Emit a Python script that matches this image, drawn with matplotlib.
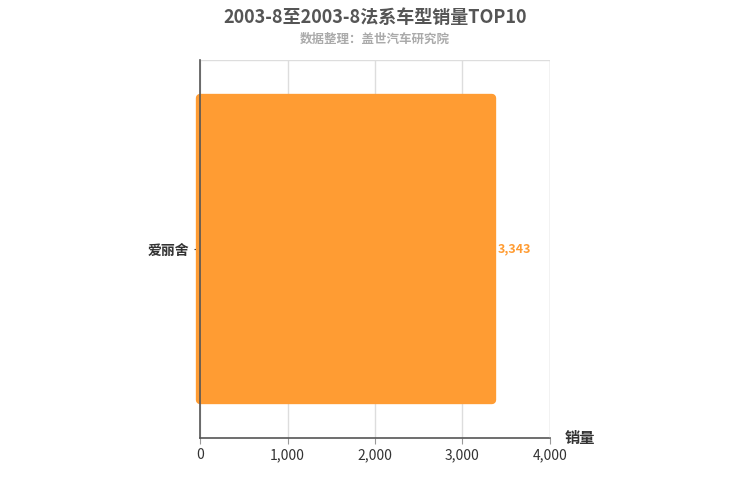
import matplotlib.pyplot as plt

plt.rcParams['font.family'] = ['Noto Sans CJK SC', 'DejaVu Sans']

# 数据
车型 = ['爱丽舍']
销量 = [3343]
刻度 = [0, 1000, 2000, 3000, 4000]

fig = plt.figure(figsize=(7.5, 5), dpi=100)
ax = fig.add_axes([0.2667, 0.124, 0.4666, 0.756])

bars = ax.barh(车型, 销量, height=0.8, color='#ff9c33', edgecolor='#ff9c33',
               linewidth=6, joinstyle='round')
for b in bars:
    b.set_clip_on(False)

ax.set_xlim(0, 4000)
ax.set_ylim(-0.5, 0.5)
ax.set_xticks(刻度)
ax.set_xticklabels([f'{v:,}' for v in 刻度], fontsize=10, color='#333333')
ax.tick_params(axis='y', labelsize=10, colors='#333333', length=4)
for lab in ax.get_yticklabels():
    lab.set_fontweight('bold')
ax.tick_params(axis='x', length=4, color='#999999')
ax.grid(axis='x', color='#dddddd', linewidth=1)
ax.set_axisbelow(True)
for s in ['top', 'right', 'bottom']:
    ax.spines[s].set_visible(False)
ax.spines['left'].set_color('#555555')
ax.spines['left'].set_linewidth(1.2)
ax.axhline(-0.5, color='#555555', linewidth=1.2, clip_on=False)
ax.axhline(0.5, color='#dddddd', linewidth=1)
ax.axvline(4000, color='#dddddd', linewidth=1)

for i, v in enumerate(销量):
    ax.text(v + 60, i, f'{v:,}', va='center', ha='left', fontsize=9,
            color='#ff9c33', fontweight='bold')

fig.text(0.5, 0.965, '2003-8至2003-8法系车型销量TOP10', ha='center', va='center',
         fontsize=13, fontweight='bold', color='#555555')
fig.text(0.5, 0.922, '数据整理：盖世汽车研究院', ha='center', va='center',
         fontsize=9, fontweight='bold', color='#aaaaaa')
fig.text(0.773, 0.124, '销量', ha='center', va='center', fontsize=11,
         fontweight='bold', color='#333333')

fig.savefig('out.png', dpi=100)
